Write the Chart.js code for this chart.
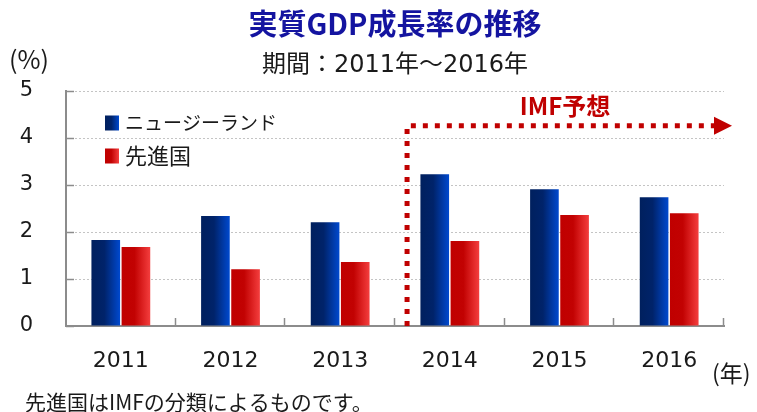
<!DOCTYPE html>
<html lang="ja">
<head>
<meta charset="utf-8">
<title>実質GDP成長率の推移</title>
<script src="https://cdn.jsdelivr.net/npm/chart.js@4.4.1/dist/chart.umd.min.js"></script>
<style>
    html, body { margin: 0; padding: 0; background: #ffffff; }
    .chart-box { width: 757px; height: 412px; position: relative; }
</style>
</head>
<body>
<div class="chart-box"><canvas id="gdp-chart"></canvas></div>
<script>
// Data
const years = ['2011', '2012', '2013', '2014', '2015', '2016'];
const nzGrowth = [1.83, 2.34, 2.21, 3.23, 2.91, 2.74];
const advancedGrowth = [1.68, 1.21, 1.36, 1.81, 2.36, 2.40];
const yTicks = [0, 1, 2, 3, 4, 5];
const seriesNames = ['ニュージーランド', '先進国'];
const forecastFrom = 3;        // 2014 onwards is the IMF forecast
const forecastLevel = 4.26;    // height of the dotted arrow, in %

const CATEGORY_PCT = 0.55;
const BAR_PCT = 0.95;
const FONT = "'DejaVu Sans', 'Noto Sans CJK JP', sans-serif";
const JP_FONT = "'Noto Sans CJK JP', 'DejaVu Sans', sans-serif";
const AXIS_GREY = '#8c8c8c';
const FORECAST_RED = '#c00000';

const blueStops = [[0, '#00205e'], [0.45, '#00236a'], [1, '#0049cf']];
const redStops = [[0, '#c00000'], [0.45, '#c20202'], [1, '#f43e3e']];

function makeGradient(ctx2d, x0, x1, stops) {
    const g = ctx2d.createLinearGradient(x0, 0, x1, 0);
    stops.forEach(function(s) { g.addColorStop(s[0], s[1]); });
    return g;
}

// Horizontal gradient for each bar, worked out from the category scale
function barFill(stops) {
    return function(ctx) {
        const chart = ctx.chart;
        const xs = chart.scales.x;
        if (ctx.type !== 'data' || !xs || !xs.width) return stops[0][1];
        const catW = xs.width / years.length;
        const slot = catW * CATEGORY_PCT / chart.data.datasets.length;
        const centre = xs.getPixelForValue(ctx.dataIndex) - catW * CATEGORY_PCT / 2 + slot * (ctx.datasetIndex + 0.5);
        const half = slot * BAR_PCT / 2;
        return makeGradient(chart.ctx, centre - half, centre + half, stops);
    };
}

// Extra drawing: inner ticks, legend, IMF forecast arrow and notes
const overlayPlugin = {
    id: 'overlay',
    afterDatasetsDraw(chart) {
        const c = chart.ctx;
        const area = chart.chartArea;
        const xs = chart.scales.x;
        const ys = chart.scales.y;
        const catW = xs.width / years.length;

        // inner tick marks
        c.save();
        c.strokeStyle = AXIS_GREY;
        c.lineWidth = 1.5;
        yTicks.forEach(function(v) {
            const py = Math.round(ys.getPixelForValue(v)) + 0.5;
            c.beginPath();
            c.moveTo(area.left, py);
            c.lineTo(area.left + 8, py);
            c.stroke();
        });
        for (let i = 1; i <= years.length; i++) {
            const px = Math.round(xs.getPixelForValue(i - 1) + catW / 2) - 0.5;
            c.beginPath();
            c.moveTo(px, area.bottom);
            c.lineTo(px, area.bottom - 8);
            c.stroke();
        }
        c.restore();

        // IMF forecast dotted arrow
        const lineX = xs.getPixelForValue(forecastFrom) - catW / 2 + catW * 0.11;
        const lineY = ys.getPixelForValue(forecastLevel);
        const arrowEnd = area.right - 10;
        c.save();
        c.strokeStyle = FORECAST_RED;
        c.lineWidth = 5;
        c.setLineDash([5, 7]);
        c.beginPath();
        c.moveTo(lineX, area.bottom);
        c.lineTo(lineX, lineY);
        c.lineTo(arrowEnd, lineY);
        c.stroke();
        c.setLineDash([]);
        c.fillStyle = FORECAST_RED;
        c.beginPath();
        c.moveTo(arrowEnd, lineY - 9);
        c.lineTo(arrowEnd + 18, lineY);
        c.lineTo(arrowEnd, lineY + 9);
        c.closePath();
        c.fill();
        c.font = 'bold 24px ' + JP_FONT;
        c.textAlign = 'center';
        c.textBaseline = 'middle';
        c.fillText('IMF予想', 565, lineY - 20);
        c.restore();

        // legend
        const legendX = area.left + 39;
        const rows = [
            { y: area.top + 32, stops: blueStops, text: seriesNames[0], size: 19 },
            { y: area.top + 65, stops: redStops, text: seriesNames[1], size: 22 }
        ];
        c.save();
        c.textBaseline = 'middle';
        c.textAlign = 'left';
        rows.forEach(function(r) {
            c.fillStyle = makeGradient(c, legendX, legendX + 14, r.stops);
            c.fillRect(legendX, r.y - 7.5, 14, 15);
            c.font = r.size + 'px ' + JP_FONT;
            c.fillStyle = '#1a1a1a';
            c.fillText(r.text, legendX + 20, r.y);
        });
        c.restore();
    },
    afterDraw(chart) {
        const c = chart.ctx;
        c.save();
        c.fillStyle = '#1a1a1a';
        c.textBaseline = 'middle';
        c.font = '25px ' + JP_FONT;
        c.textAlign = 'left';
        c.fillText('(%)', 9, 59);
        c.font = '23px ' + JP_FONT;
        c.fillText('(年)', 712, 373);
        c.font = '21px ' + JP_FONT;
        c.fillText('先進国はIMFの分類によるものです。', 25, 402);
        c.restore();
    }
};

const ctx = document.getElementById('gdp-chart').getContext('2d');
new Chart(ctx, {
    type: 'bar',
    data: {
        labels: years,
        datasets: [
            {
                label: seriesNames[0],
                data: nzGrowth,
                backgroundColor: barFill(blueStops),
                categoryPercentage: CATEGORY_PCT,
                barPercentage: BAR_PCT
            },
            {
                label: seriesNames[1],
                data: advancedGrowth,
                backgroundColor: barFill(redStops),
                categoryPercentage: CATEGORY_PCT,
                barPercentage: BAR_PCT
            }
        ]
    },
    options: {
        responsive: true,
        maintainAspectRatio: false,
        animation: false,
        layout: { padding: { left: 0, right: 33, top: 0, bottom: 0 } },
        plugins: {
            legend: { display: false },
            tooltip: { enabled: false },
            title: {
                display: true,
                text: '実質GDP成長率の推移',
                color: '#1414a0',
                fullSize: false,
                font: { family: JP_FONT, size: 29, weight: 'bold' },
                padding: { top: 7, bottom: 10 }
            },
            subtitle: {
                display: true,
                text: '期間：2011年～2016年',
                color: '#1a1a1a',
                fullSize: false,
                font: { family: FONT, size: 24 },
                padding: { top: 0, bottom: 10.4 }
            }
        },
        scales: {
            x: {
                grid: { display: false, drawTicks: false },
                border: { display: true, color: AXIS_GREY, width: 2 },
                ticks: { color: '#1a1a1a', font: { family: FONT, size: 22 }, padding: 22 },
                afterFit: function(scale) { scale.height = 86; }
            },
            y: {
                min: 0,
                max: 5,
                grid: { color: '#c4c4c4', lineWidth: 1, drawTicks: false },
                border: { display: true, color: AXIS_GREY, width: 2, dash: [2, 2] },
                ticks: { stepSize: 1, color: '#1a1a1a', font: { family: FONT, size: 21 }, padding: 33 },
                afterFit: function(scale) { scale.width = 66; }
            }
        }
    },
    plugins: [overlayPlugin]
});
</script>
</body>
</html>
